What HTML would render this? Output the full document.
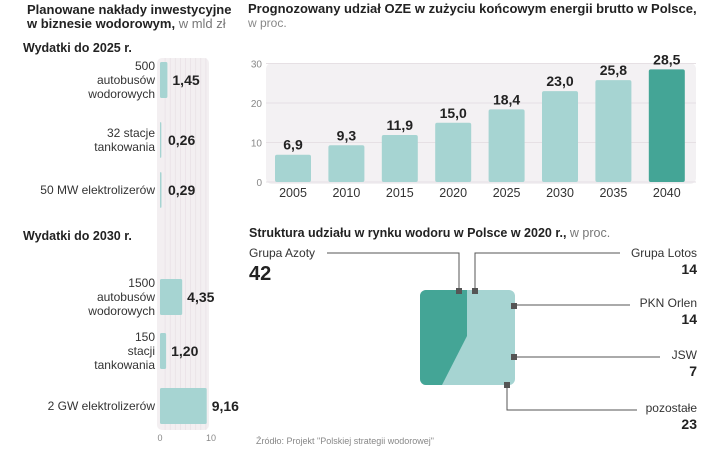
<!DOCTYPE html>
<html><head><meta charset="utf-8"><style>
body{margin:0;width:720px;height:448px;background:#fff;overflow:hidden;font-family:"Liberation Sans",sans-serif;}
svg text{font-family:"Liberation Sans",sans-serif;}
</style></head><body>
<svg width="720" height="448" viewBox="0 0 720 448">
<text x="27" y="14" font-size="13" font-weight="bold" fill="#222">Planowane nakłady inwestycyjne</text>
<text x="27" y="28" font-size="13" font-weight="bold" fill="#222">w biznesie wodorowym,<tspan font-weight="normal" fill="#777"> w mld zł</tspan></text>
<text x="23" y="52" font-size="12.5" font-weight="bold" fill="#222">Wydatki do 2025 r.</text>
<text x="23" y="240" font-size="12.5" font-weight="bold" fill="#222">Wydatki do 2030 r.</text>
<g id="left"></g>
<text x="248" y="13" font-size="13" font-weight="bold" fill="#222">Prognozowany udział OZE w zużyciu końcowym energii brutto w Polsce,</text>
<text x="248" y="27" font-size="12" fill="#888">w proc.</text>
<g id="oze"></g>
<text x="249" y="237" font-size="12.5" font-weight="bold" fill="#222">Struktura udziału w rynku wodoru w Polsce w 2020 r.,<tspan font-weight="normal" fill="#777"> w proc.</tspan></text>
<g id="share"></g>
<text x="256" y="444" font-size="9" fill="#888">Źródło: Projekt "Polskiej strategii wodorowej"</text>
</svg>
<script>
const NS='http://www.w3.org/2000/svg';
function mk(tag,attrs,parent,txt){const e=document.createElementNS(NS,tag);for(const k in attrs)e.setAttribute(k,attrs[k]);if(txt!==undefined)e.textContent=txt;parent.appendChild(e);return e;}

const invLabels=[["500","autobusów","wodorowych"],["32 stacje","tankowania"],["50 MW elektrolizerów"],["1500","autobusów","wodorowych"],["150","stacji","tankowania"],["2 GW elektrolizerów"]];
const invValues=[1.45,0.26,0.29,4.35,1.20,9.16];
const invTicks=[0,10];
const invRowY=[80,140,190,297,351,406];
const L=document.getElementById('left');
const lx=v=>160+v*5.1;
const bg=mk('rect',{x:157,y:58,width:52,height:372,rx:5,fill:'#f3eff1'},L);

for(let i=1;i<10;i++){const g=mk('line',{x1:lx(i),x2:lx(i),y1:58,y2:430,stroke:'#e8e0e5','stroke-width':0.7},L);}
invValues.forEach((v,i)=>{
  const cy=invRowY[i];
  const w=lx(v)-lx(0);
  const r=mk('rect',{x:lx(0),y:cy-18,width:w,height:36,rx:1.5,fill:'#a6d4d2'},L);
  
  const t=mk('text',{x:lx(0)+Math.max(w,3)+5,y:cy+5,'font-size':14,'font-weight':'bold',fill:'#222'},L,v.toFixed(2).replace('.',','));
  
  const lines=invLabels[i];const lh=14;const y0=cy-(lines.length-1)*lh/2+4;
  lines.forEach((s,j)=>{const tt=mk('text',{x:155,y:y0+j*lh,'font-size':12,fill:'#333','text-anchor':'end'},L,s);});
});
invTicks.forEach(v=>{const t=mk('text',{x:lx(v),y:441,'font-size':9,fill:'#888','text-anchor':'middle'},L,String(v));});

const ozeYears=["2005","2010","2015","2020","2025","2030","2035","2040"];
const ozeValues=[6.9,9.3,11.9,15.0,18.4,23.0,25.8,28.5];
const ozeTicks=[0,10,20,30];
const O=document.getElementById('oze');
const oy=v=>182-v*3.95;const ox=i=>293+i*53.4;
const obg=mk('rect',{x:266,y:63,width:430,height:121,rx:6,fill:'#f3f1f3'},O);

ozeTicks.forEach(v=>{
  const g=mk('line',{x1:266,x2:696,y1:oy(v),y2:oy(v),stroke:'#e6e0e4','stroke-width':1},O);
  const t=mk('text',{x:262,y:oy(v)+4,'font-size':10,fill:'#888','text-anchor':'end'},O,String(v));
});
ozeValues.forEach((v,i)=>{
  const r=mk('rect',{x:ox(i)-18,y:oy(v),width:36,height:oy(0)-oy(v),rx:2,fill:i===7?'#44a596':'#a6d4d2'},O);
  
  const t=mk('text',{x:ox(i),y:oy(v)-5,'font-size':14,'font-weight':'bold',fill:'#222','text-anchor':'middle'},O,v.toFixed(1).replace('.',','));
  
  const x=mk('text',{x:ox(i),y:197,'font-size':12.5,fill:'#333','text-anchor':'middle'},O,ozeYears[i]);
  
});

const shareNames=["Grupa Azoty","Grupa Lotos","PKN Orlen","JSW","pozostałe"];
const shareValues=[42,14,14,7,23];
const S=document.getElementById('share');
const box=mk('rect',{x:420,y:290,width:95,height:95,rx:6,fill:'#a6d4d2'},S);

const cp=mk('clipPath',{id:'bc'},S);mk('rect',{x:420,y:290,width:95,height:95,rx:6},cp);
const dk=mk('polygon',{points:'420,290 467,290 467,336 442,385 420,385',fill:'#44a596','clip-path':'url(#bc)'},S);

const leaders=['327,253 459,253 459,291','475,291 475,253 620,253','514,306 517,305 630,305','514,357 660,357','507,385 507,410 637,410'];
leaders.forEach(p=>{const l=mk('polyline',{points:p,fill:'none',stroke:'#555','stroke-width':1},S);});
[[459,291],[475,291],[514,306],[514,357],[507,385]].forEach(([x,y])=>{const m=mk('rect',{x:x-3,y:y-3,width:6,height:6,fill:'#555'},S);});
const n0=mk('text',{x:249,y:257,'font-size':12,fill:'#333'},S,shareNames[0]);
const v0=mk('text',{x:249,y:280,'font-size':20,'font-weight':'bold',fill:'#222'},S,String(shareValues[0]));
const ry=[257,307,359,412];
for(let i=1;i<5;i++){
  const n=mk('text',{x:697,y:ry[i-1],'font-size':12,fill:'#333','text-anchor':'end'},S,shareNames[i]);
  const v=mk('text',{x:697,y:ry[i-1]+17,'font-size':14,'font-weight':'bold',fill:'#222','text-anchor':'end'},S,String(shareValues[i]));
}
</script>
</body></html>
